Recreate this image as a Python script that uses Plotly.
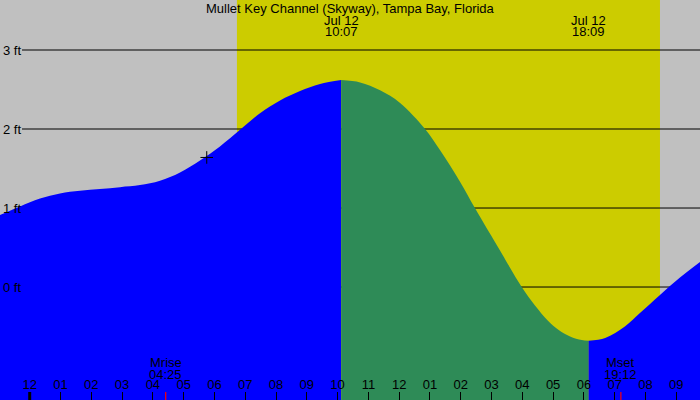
import plotly.graph_objects as go

# ---------------- data ----------------
# hours relative to Jul 12 00:00 (negative = previous day)
times = [-0.97, -0.315, 0.335, 0.984, 1.634, 2.283, 2.933, 3.582, 4.232, 4.882,
         5.531, 6.18, 6.83, 7.48, 8.13, 8.78, 9.43, 10.117,
         10.73, 11.38, 12.03, 12.84, 13.33, 13.98, 14.46, 15.27, 15.60, 15.98,
         16.41, 16.84, 17.17, 17.55, 17.93, 18.15,
         18.69, 19.33, 19.82, 20.47, 21.12, 21.78]
heights = [0.91, 1.02, 1.12, 1.185, 1.218, 1.241, 1.264, 1.29, 1.345, 1.45,
           1.60, 1.78, 1.99, 2.20, 2.36, 2.48, 2.57, 2.62,
           2.59, 2.49, 2.33, 2.00, 1.73, 1.33, 1.00, 0.465, 0.245, 0.00,
           -0.235, -0.43, -0.54, -0.625, -0.67, -0.68,
           -0.645, -0.50, -0.33, -0.10, 0.12, 0.32]

event_times = [10.117, 18.15]
event_dates = ["Jul 12", "Jul 12"]
event_clock = ["10:07", "18:09"]

moon_times = [4.417, 19.2]
moon_names = ["Mrise", "Mset"]
moon_clock = ["04:25", "19:12"]

sunrise, sunset = 6.73, 20.47

now_time, now_height = 5.75, 1.64

hour_ticks = list(range(-1, 22))
hour_labels = ["11", "12", "01", "02", "03", "04", "05", "06", "07", "08", "09", "10",
               "11", "12", "01", "02", "03", "04", "05", "06", "07", "08", "09"]

level_ticks = [0, 1, 2, 3]
level_labels = ["0 ft", "1 ft", "2 ft", "3 ft"]

title = "Mullet Key Channel (Skyway), Tampa Bay, Florida"

# ---------------- styles ----------------
FONT = "Liberation Sans, Arial, sans-serif"
FS = 13
X_RANGE = [-0.9646, 21.770]
Y_RANGE = [-1.430, 3.633]
BLUE = "#0000ff"
GREEN = "#2e8b57"
GRAY = "#c0c0c0"
YELLOW = "#cccc00"

fig = go.Figure()

# split the curve into rising / falling segments at the extremes
i_hi = times.index(event_times[0])
i_lo = times.index(event_times[1])
segments = [(0, i_hi, BLUE), (i_hi, i_lo, GREEN), (i_lo, len(times) - 1, BLUE)]
base = Y_RANGE[0] - 1
for a, b, col in segments:
    xs = times[a:b + 1]
    ys = heights[a:b + 1]
    fig.add_trace(go.Scatter(x=[xs[0], xs[-1]], y=[base, base], mode="lines",
                             line=dict(width=0, color=col), hoverinfo="skip"))
    fig.add_trace(go.Scatter(x=xs, y=ys, mode="lines", fill="tonexty",
                             fillcolor=col, line=dict(width=0, color=col, shape="spline"),
                             hoverinfo="skip"))

# current-position marker
fig.add_trace(go.Scatter(x=[now_time], y=[now_height], mode="markers",
                         marker=dict(symbol="cross-thin", size=9,
                                     line=dict(width=1, color="black"), color="black"),
                         hoverinfo="skip"))

# hour labels (text trace so the cut-off first label is still drawn)
label_y = Y_RANGE[1] - (Y_RANGE[1] - Y_RANGE[0]) * 385.5 / 400
fig.add_trace(go.Scatter(x=hour_ticks, y=[label_y] * len(hour_ticks), mode="text",
                         text=hour_labels, textposition="middle center",
                         textfont=dict(family=FONT, size=FS, color="black"),
                         cliponaxis=False, hoverinfo="skip"))

shapes = [dict(type="rect", xref="x", yref="paper", x0=sunrise, x1=sunset, y0=0, y1=1,
               fillcolor=YELLOW, line=dict(width=0), layer="below")]
for lv in level_ticks:
    shapes.append(dict(type="line", xref="paper", yref="y", x0=22 / 700, x1=1, y0=lv, y1=lv,
                       line=dict(color="black", width=1), layer="below"))
# thick midnight tick
shapes.append(dict(type="line", xref="x", yref="paper", x0=0, x1=0, y0=0, y1=8 / 400,
                   line=dict(color="black", width=3), layer="above"))
for mt in moon_times:
    shapes.append(dict(type="line", xref="x", yref="paper", x0=mt, x1=mt, y0=0, y1=8 / 400,
                       line=dict(color="red", width=1.2), layer="above"))

ann = []
def txt(x, y, s, xref="x", xanchor="center"):
    ann.append(dict(x=x, y=y, xref=xref, yref="paper", text=s, showarrow=False,
                    xanchor=xanchor, yanchor="middle",
                    font=dict(family=FONT, size=FS, color="black")))

txt(0.5, 1 - 8 / 400, title, xref="paper")
for t, d, c in zip(event_times, event_dates, event_clock):
    txt(t, 1 - 20.5 / 400, d)
    txt(t, 1 - 32 / 400, c)
for t, n, c in zip(moon_times, moon_names, moon_clock):
    txt(t, 1 - 362 / 400, n)
    txt(t, 1 - 374 / 400, c)
for lv, lab in zip(level_ticks, level_labels):
    ann.append(dict(x=1 / 700, y=lv, xref="paper", yref="y", text=lab, showarrow=False,
                    xanchor="left", yanchor="middle",
                    font=dict(family=FONT, size=FS, color="black")))

fig.update_layout(
    width=700, height=400, margin=dict(l=0, r=0, t=0, b=0),
    paper_bgcolor=GRAY, plot_bgcolor=GRAY, showlegend=False,
    shapes=shapes, annotations=ann,
    xaxis=dict(range=X_RANGE, showgrid=False, zeroline=False, showline=False,
               tickvals=hour_ticks, ticks="inside", ticklen=8, tickwidth=1,
               tickcolor="black", showticklabels=False, fixedrange=True),
    yaxis=dict(range=Y_RANGE, showgrid=False, zeroline=False, showline=False,
               showticklabels=False, ticks="", fixedrange=True),
)

fig.write_html("out.html")
